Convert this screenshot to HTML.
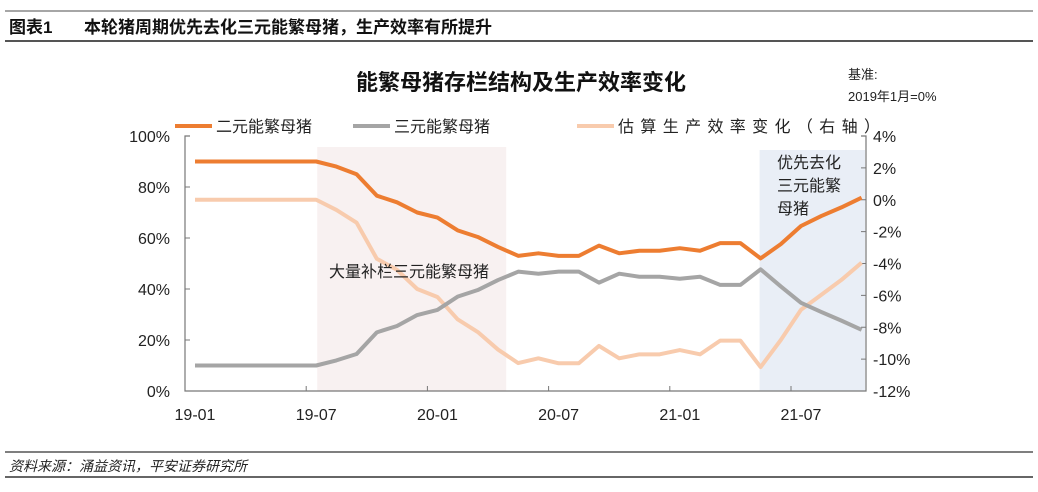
<!DOCTYPE html>
<html><head><meta charset="utf-8"><style>
body{margin:0;background:#fff;}
svg text{font-family:"Liberation Sans","Noto Sans CJK SC",sans-serif;}
</style></head><body>
<svg width="1038" height="487" xmlns="http://www.w3.org/2000/svg">
<line x1="5" y1="11" x2="1033" y2="11" stroke="#888" stroke-width="1.5"/>
<text x="9" y="33" font-size="17" font-weight="bold" fill="#111">图表1</text>
<text x="84" y="33" font-size="17" font-weight="bold" fill="#111">本轮猪周期优先去化三元能繁母猪，生产效率有所提升</text>
<line x1="5" y1="41" x2="1033" y2="41" stroke="#555" stroke-width="2"/>
<text x="521" y="90" font-size="22" font-weight="bold" text-anchor="middle" fill="#111">能繁母猪存栏结构及生产效率变化</text>
<text x="848" y="79" font-size="13" fill="#222">基准:</text>
<text x="848" y="101" font-size="13" fill="#222">2019年1月=0%</text>
<g>
<g><line x1="175" y1="126" x2="212" y2="126" stroke="#ed7d31" stroke-width="4"/><text x="216" y="132" font-size="16" fill="#222">二元能繁母猪</text></g>
<g><line x1="353" y1="126" x2="390" y2="126" stroke="#a5a5a5" stroke-width="4"/><text x="394" y="132" font-size="16" fill="#222">三元能繁母猪</text></g>
<g><line x1="577" y1="126" x2="614" y2="126" stroke="#f8cbad" stroke-width="4"/><text x="618" y="132" font-size="16" fill="#222" textLength="262">估算生产效率变化（右轴）</text></g>
</g>
<g id="plot"></g>
<line x1="5" y1="452" x2="1033" y2="452" stroke="#555" stroke-width="1.5"/>
<text x="9" y="471" font-size="14" font-style="italic" fill="#222">资料来源：涌益资讯，平安证券研究所</text>
<line x1="5" y1="477" x2="1033" y2="477" stroke="#333" stroke-width="1.5"/>
</svg>
<script>
const months = ["19-01","19-02","19-03","19-04","19-05","19-06","19-07","19-08","19-09","19-10","19-11","19-12","20-01","20-02","20-03","20-04","20-05","20-06","20-07","20-08","20-09","20-10","20-11","20-12","21-01","21-02","21-03","21-04","21-05","21-06","21-07","21-08","21-09","21-10"];
const twoWay = [90,90,90,90,90,90,90,88,85,76.6,74,70,68,63,60.4,56.5,53,54,53,53,57,54,55,55,56,55,58,58,52,57.6,64.7,68.6,72,75.8];
const threeWay = [10,10,10,10,10,10,10,12,14.5,23,25.5,29.8,31.8,37,39.6,43.5,46.8,46,46.8,46.8,42.5,46,44.8,44.8,44,44.8,41.6,41.6,47.7,41,34.6,31,27.6,24];
const efficiency = [0,0,0,0,0,0,0,-0.64,-1.44,-3.7,-4.4,-5.6,-6.1,-7.5,-8.3,-9.4,-10.25,-9.95,-10.26,-10.26,-9.17,-9.95,-9.7,-9.7,-9.43,-9.7,-8.84,-8.84,-10.5,-8.8,-6.9,-5.97,-5.03,-3.95];
const leftTicks = [0,20,40,60,80,100];
const rightTicks = [4,2,0,-2,-4,-6,-8,-10,-12];
const xLabels = ["19-01","19-07","20-01","20-07","21-01","21-07"];
const shadePink = ["19-07","20-05"];
const shadeBlue = ["21-05","21-10"];

const NS="http://www.w3.org/2000/svg";
const g=document.getElementById('plot');
const X0=185,X1=866,Y0=391,Y1=136;
function x(i){return 195+i*20.2;}
function yL(v){return Y0-(v/100)*(Y0-Y1);}
function yR(v){return Y0-(v+12)/16*(Y0-Y1);}
function mk(t,a){const e=document.createElementNS(NS,t);for(const k in a)e.setAttribute(k,a[k]);g.appendChild(e);return e;}

let r=mk('rect',{x:x(months.indexOf(shadePink[0]))+1,y:147,width:x(months.indexOf(shadePink[1]))-x(months.indexOf(shadePink[0]))-13,height:Y0-147,fill:'#f8f1f1'});


r=mk('rect',{x:x(months.indexOf(shadeBlue[0]))-1,y:150,width:X1-x(months.indexOf(shadeBlue[0])),height:Y0-150,fill:'#e9eef6'});



let ax=mk('path',{d:`M${X0+5} ${Y1}H${X0}V${Y0}H${X1}V${Y1}H${X1-5}`,fill:'none',stroke:'#777','stroke-width':1.2});


leftTicks.forEach(v=>{
  const l=mk('line',{x1:X0,x2:X0+5,y1:yL(v),y2:yL(v),stroke:'#777'});
  
  
  const t=mk('text',{x:170,y:yL(v)+6,'font-size':16,'text-anchor':'end',fill:'#222'});
  t.textContent=v+'%';
  
  
});
rightTicks.forEach(v=>{
  const l=mk('line',{x1:X1-5,x2:X1,y1:yR(v),y2:yR(v),stroke:'#777'});
  
  
  const t=mk('text',{x:873,y:yR(v)+6,'font-size':16,fill:'#222'});
  t.textContent=v+'%';
  
  
});
xLabels.forEach(s=>{
  const i=months.indexOf(s);
  const l=mk('line',{x1:x(i)-10,x2:x(i)-10,y1:Y0,y2:Y0-5,stroke:'#777'});
  
  
  const t=mk('text',{x:x(i),y:420,'font-size':16,'text-anchor':'middle',fill:'#222'});
  t.textContent=s;
  
  
});
function line(arr,fy,col,name){
  const p=mk('polyline',{points:arr.map((v,i)=>x(i)+','+fy(v)).join(' '),fill:'none',stroke:col,'stroke-width':4,'stroke-linejoin':'round'});
  
  
}
line(efficiency,yR,'#f8cbad','efficiency-line');
line(threeWay,yL,'#a5a5a5','three-way-line');
line(twoWay,yL,'#ed7d31','two-way-line');
let a=mk('text',{x:329,y:277,'font-size':16,fill:'#222'});
a.textContent='大量补栏三元能繁母猪';


['优先去化','三元能繁','母猪'].forEach((s,k)=>{
  const t=mk('text',{x:777,y:168+k*23,'font-size':16,fill:'#222'});
  t.textContent=s;
  
  
});
</script>
</body></html>
